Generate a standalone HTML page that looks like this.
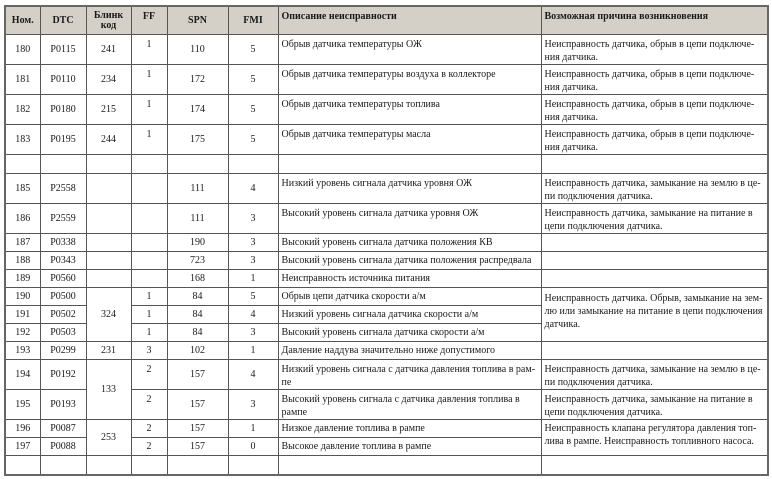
<!DOCTYPE html>
<html><head><meta charset="utf-8"><style>
body{margin:0;background:#fff;width:772px;height:479px;overflow:hidden}
table{position:absolute;left:4px;top:5px;border-collapse:collapse;table-layout:fixed;font-family:"Liberation Serif","DejaVu Serif",serif;font-size:10px;color:#1a1a1a;border:2px solid #666}
td,th{border:1px solid #555;padding:0 3px;line-height:13px;overflow:hidden}
th{background:#d4d0c8;font-weight:bold;font-size:10px;height:24px;vertical-align:middle;text-align:center}
th.l{text-align:left;vertical-align:top;padding-top:3px}
td.c{text-align:center;vertical-align:middle}
td.ff{text-align:center;vertical-align:top;padding-top:3px}
td.d{vertical-align:top;padding-top:3px}
tr.t td{height:23px}
tr.s td{height:15px}
tr.s td.d{padding-top:2px}
tr.s td.ff{padding-top:2px}
tr.e td{height:18px}
</style></head><body>
<table>
<colgroup><col style="width:35px"><col style="width:46px"><col style="width:45px"><col style="width:36px"><col style="width:61px"><col style="width:50px"><col style="width:263px"><col style="width:227px"></colgroup>
<tr><th>Ном.</th><th>DTC</th><th style="line-height:10px">Блинк<br>код</th><th style="vertical-align:top;padding-top:3px">FF</th><th>SPN</th><th>FMI</th><th class="l">Описание неисправности</th><th class="l">Возможная причина возникновения</th></tr>
<tr class="t"><td class="c">180</td><td class="c">P0115</td><td class="c">241</td><td class="ff">1</td><td class="c">110</td><td class="c">5</td><td class="d">Обрыв датчика температуры ОЖ</td><td class="d">Неисправность датчика, обрыв в цепи подключе-<br>ния датчика.</td></tr>
<tr class="t"><td class="c">181</td><td class="c">P0110</td><td class="c">234</td><td class="ff">1</td><td class="c">172</td><td class="c">5</td><td class="d">Обрыв датчика температуры воздуха в коллекторе</td><td class="d">Неисправность датчика, обрыв в цепи подключе-<br>ния датчика.</td></tr>
<tr class="t"><td class="c">182</td><td class="c">P0180</td><td class="c">215</td><td class="ff">1</td><td class="c">174</td><td class="c">5</td><td class="d">Обрыв датчика температуры топлива</td><td class="d">Неисправность датчика, обрыв в цепи подключе-<br>ния датчика.</td></tr>
<tr class="t"><td class="c">183</td><td class="c">P0195</td><td class="c">244</td><td class="ff">1</td><td class="c">175</td><td class="c">5</td><td class="d">Обрыв датчика температуры масла</td><td class="d">Неисправность датчика, обрыв в цепи подключе-<br>ния датчика.</td></tr>
<tr class="e"><td></td><td></td><td></td><td></td><td></td><td></td><td></td><td></td></tr>
<tr class="t"><td class="c">185</td><td class="c">P2558</td><td></td><td></td><td class="c">111</td><td class="c">4</td><td class="d">Низкий уровень сигнала датчика уровня ОЖ</td><td class="d">Неисправность датчика, замыкание на землю в це-<br>пи подключения датчика.</td></tr>
<tr class="t"><td class="c">186</td><td class="c">P2559</td><td></td><td></td><td class="c">111</td><td class="c">3</td><td class="d">Высокий уровень сигнала датчика уровня ОЖ</td><td class="d">Неисправность датчика, замыкание на питание в<br>цепи подключения датчика.</td></tr>
<tr class="s"><td class="c">187</td><td class="c">P0338</td><td></td><td></td><td class="c">190</td><td class="c">3</td><td class="d">Высокий уровень сигнала датчика положения КВ</td><td></td></tr>
<tr class="s"><td class="c">188</td><td class="c">P0343</td><td></td><td></td><td class="c">723</td><td class="c">3</td><td class="d">Высокий уровень сигнала датчика положения распредвала</td><td></td></tr>
<tr class="s"><td class="c">189</td><td class="c">P0560</td><td></td><td></td><td class="c">168</td><td class="c">1</td><td class="d">Неисправность источника питания</td><td></td></tr>
<tr class="s"><td class="c">190</td><td class="c">P0500</td><td class="c" rowspan="3">324</td><td class="ff">1</td><td class="c">84</td><td class="c">5</td><td class="d">Обрыв цепи датчика скорости а/м</td><td class="d" rowspan="3" style="padding-top:4px">Неисправность датчика. Обрыв, замыкание на зем-<br>лю или замыкание на питание в цепи подключения<br>датчика.</td></tr>
<tr class="s"><td class="c">191</td><td class="c">P0502</td><td class="ff">1</td><td class="c">84</td><td class="c">4</td><td class="d">Низкий уровень сигнала датчика скорости а/м</td></tr>
<tr class="s"><td class="c">192</td><td class="c">P0503</td><td class="ff">1</td><td class="c">84</td><td class="c">3</td><td class="d">Высокий уровень сигнала датчика скорости а/м</td></tr>
<tr class="s"><td class="c">193</td><td class="c">P0299</td><td class="c">231</td><td class="ff">3</td><td class="c">102</td><td class="c">1</td><td class="d">Давление наддува значительно ниже допустимого</td><td></td></tr>
<tr class="t"><td class="c">194</td><td class="c">P0192</td><td class="c" rowspan="2">133</td><td class="ff">2</td><td class="c">157</td><td class="c">4</td><td class="d">Низкий уровень сигнала с датчика давления топлива в рам-<br>пе</td><td class="d">Неисправность датчика, замыкание на землю в це-<br>пи подключения датчика.</td></tr>
<tr class="t"><td class="c">195</td><td class="c">P0193</td><td class="ff">2</td><td class="c">157</td><td class="c">3</td><td class="d">Высокий уровень сигнала с датчика давления топлива в<br>рампе</td><td class="d">Неисправность датчика, замыкание на питание в<br>цепи подключения датчика.</td></tr>
<tr class="s"><td class="c">196</td><td class="c">P0087</td><td class="c" rowspan="2">253</td><td class="ff">2</td><td class="c">157</td><td class="c">1</td><td class="d">Низкое давление топлива в рампе</td><td class="d" rowspan="2">Неисправность клапана регулятора давления топ-<br>лива в рампе. Неисправность топливного насоса.</td></tr>
<tr class="s"><td class="c">197</td><td class="c">P0088</td><td class="ff">2</td><td class="c">157</td><td class="c">0</td><td class="d">Высокое давление топлива в рампе</td></tr>
<tr class="e"><td></td><td></td><td></td><td></td><td></td><td></td><td></td><td></td></tr>
</table>
</body></html>
